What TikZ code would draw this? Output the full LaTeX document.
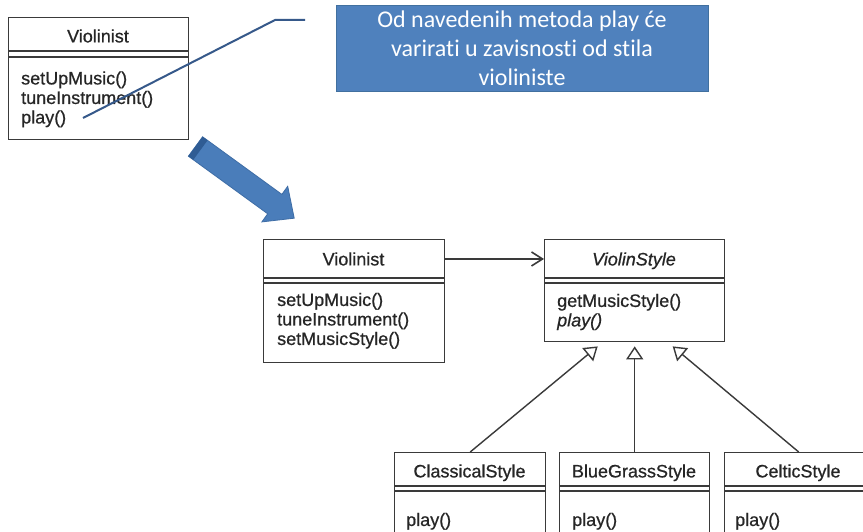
\documentclass[tikz,border=0pt]{standalone}
\usepackage{fontspec}
\setmainfont{Liberation Sans}
\newfontfamily\umlfont[FakeBold=0.7]{Liberation Sans}
\newfontfamily\calloutfont[Ligatures=NoCommon]{Carlito}
\usetikzlibrary{arrows.meta}
\definecolor{umlline}{HTML}{3A3A3A}
\definecolor{umltext}{HTML}{262626}
\definecolor{callblue}{HTML}{4F81BD}
\definecolor{calledge}{HTML}{41709F}
\definecolor{leaderblue}{HTML}{36598A}
\definecolor{arrowblue}{HTML}{4A7DBA}
\definecolor{arrowedge}{HTML}{3E6DA6}
\definecolor{arrowdark}{HTML}{2F5C94}
\begin{document}
\begin{tikzpicture}[x=1pt,y=-1pt,
  umlbox/.style={draw=umlline, line width=1.4pt, anchor=north west, inner sep=0pt},
  umltitle/.style={font=\umlfont\fontsize{18}{19.5}\selectfont, text=umltext, inner sep=0pt, anchor=base},
  umlops/.style={font=\umlfont\fontsize{18}{19.5}\selectfont, text=umltext, align=left, anchor=west, inner sep=0pt},
  sepline/.style={draw=umlline, line width=1.1pt},
  gen/.style={draw=umlline, line width=1.4pt, -{Triangle[open, length=13pt, width=17pt]}},
  assoc/.style={draw=umlline, line width=1.6pt, -{Straight Barb[length=11pt, width=14pt]}},
  leader/.style={draw=leaderblue, line width=2pt},
]
\useasboundingbox (0,0) rectangle (863,532);
\fill[white] (0,0) rectangle (863,532);
\clip (0,0) rectangle (863,532);

% ---------- top Violinist ----------
\node[umlbox, minimum width=180pt, minimum height=122pt] (vio1) at (8,17) {};
\draw[sepline] (8,51) -- (188,51);
\draw[sepline] (8,57) -- (188,57);
\node[umltitle] (vio1t) at (98,42.4) {Violinist};
\node[umlops] (vio1o) at (21,99.3) {setUpMusic()\\tuneInstrument()\\play()};

% ---------- callout ----------
\node[fill=callblue, draw=calledge, line width=0.8pt, minimum width=372pt, minimum height=86pt,
      inner sep=0pt, text=white, font=\calloutfont\fontsize{24}{29}\selectfont, align=center]
      (note) at (522,48) {Od navedenih metoda play će\\varirati u zavisnosti od stila\\violiniste};

% leader line
\coordinate (lead0) at (83,118);
\coordinate (lead1) at (275,20);
\coordinate (lead2) at (305,20);
\draw[leader] (lead0) -- (lead1) -- (lead2);

% ---------- big arrow ----------
\filldraw[fill=arrowblue, draw=arrowedge, line width=0.8pt, line join=miter]
  (202.6,136.8) -- (281.9,194.4) -- (287.7,186.3) -- (294.2,218.2)
  -- (261.9,221.9) -- (267.7,213.8) -- (188.4,156.2) -- cycle;
\fill[arrowdark] (202.6,136.8) -- (207.5,140.4) -- (193.3,159.8) -- (188.4,156.2) -- cycle;

% ---------- middle Violinist ----------
\node[umlbox, minimum width=181pt, minimum height=123pt] (vio2) at (263,239) {};
\draw[sepline] (263,278) -- (444,278);
\draw[sepline] (263,283) -- (444,283);
\node[umltitle] (vio2t) at (353.5,265.4) {Violinist};
\node[umlops] (vio2o) at (277,320.8) {setUpMusic()\\tuneInstrument()\\setMusicStyle()};

% ---------- ViolinStyle ----------
\node[umlbox, minimum width=180pt, minimum height=102pt] (vs) at (544,239) {};
\draw[sepline] (544,278) -- (724,278);
\draw[sepline] (544,283) -- (724,283);
\node[umltitle] (vst) at (634,265.4) {\itshape ViolinStyle};
\node[umlops] (vso) at (557,312) {getMusicStyle()\\\itshape play()};

% ---------- subclasses ----------
\node[umlbox, minimum width=151pt, minimum height=110pt] (cls) at (394,452) {};
\draw[sepline] (394,486) -- (545,486);
\draw[sepline] (394,491) -- (545,491);
\node[umltitle] (clst) at (469.5,477.4) {ClassicalStyle};
\node[umlops] (clso) at (406,521.3) {play()};

\node[umlbox, minimum width=150pt, minimum height=110pt] (bgs) at (559,452) {};
\draw[sepline] (559,486) -- (709,486);
\draw[sepline] (559,491) -- (709,491);
\node[umltitle] (bgst) at (634,477.4) {BlueGrassStyle};
\node[umlops] (bgso) at (572,521.3) {play()};

\node[umlbox, minimum width=148pt, minimum height=110pt] (cel) at (724,452) {};
\draw[sepline] (724,486) -- (872,486);
\draw[sepline] (724,491) -- (872,491);
\node[umltitle] (celt) at (798,477.4) {CelticStyle};
\node[umlops] (celo) at (735,521.3) {play()};

% ---------- connectors ----------
\draw[assoc] (vio2.east |- vio2t.center) -- (vs.west |- vio2t.center);
\draw[gen] (cls.north) -- ([xshift=-37pt,yshift=-4pt]vs.south);
\draw[gen] (bgs.north) -- ([yshift=-4pt]vs.south);
\draw[gen] (cel.north) -- ([xshift=38pt,yshift=-4pt]vs.south);
\end{tikzpicture}
\end{document}
